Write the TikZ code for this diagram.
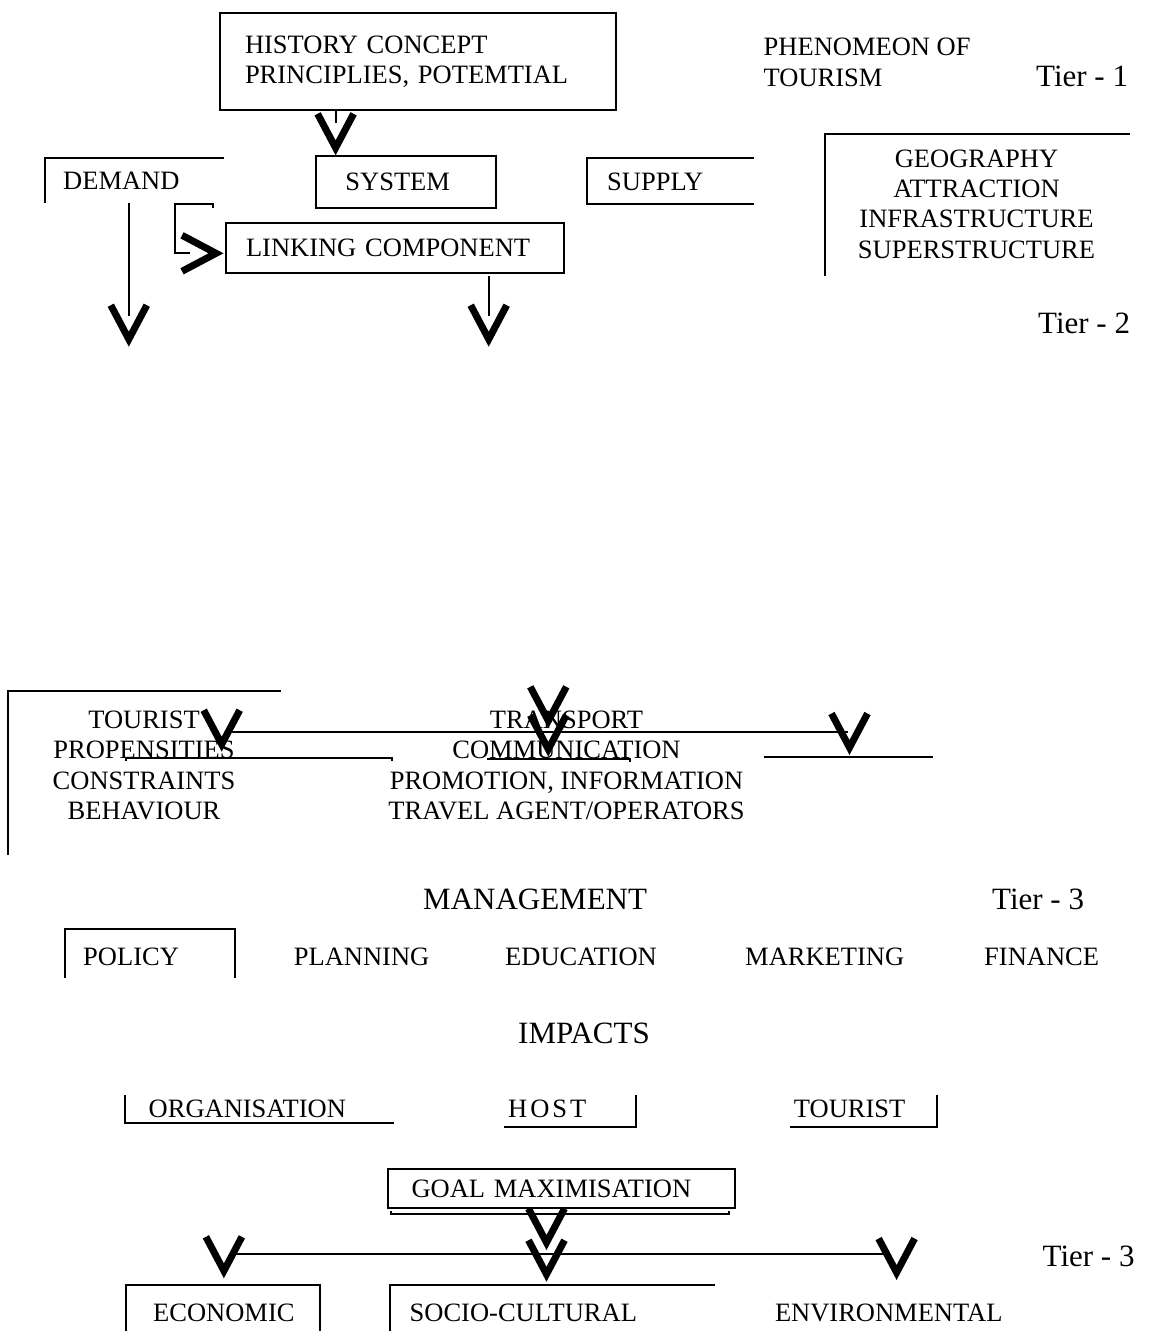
\documentclass[tikz,border=0pt]{standalone}
\usepackage{fontspec}
\setmainfont{Liberation Serif}
\usepackage{tikz}
\usetikzlibrary{arrows.meta, calc}

\begin{document}
\begin{tikzpicture}[
    x=1pt, y=-1pt,
    txt/.style={font=\fontsize{26.5}{30.3}\selectfont, inner sep=0pt, align=left, anchor=base west},
    ctxt/.style={font=\fontsize{26.5}{30.3}\selectfont, inner sep=0pt, align=center, anchor=base},
    bigtxt/.style={font=\fontsize{31}{36}\selectfont, inner sep=0pt, anchor=base west},
    boxnode/.style={draw, line width=2pt, anchor=north west, align=left, inner ysep=0pt, font=\fontsize{26.5}{30.3}\selectfont},
    frame/.style={line width=2pt},
    flow/.style={line width=2pt},
    vtip/.style={flow, -{Straight Barb[length=34pt, width=36pt, line width=7pt, sharp]}}
]
    \useasboundingbox (0,0) rectangle (1151,1331);

    % Tier 1
    \node[boxnode, minimum width=396pt, minimum height=97pt, text width=346pt, inner xsep=25pt] (Hist) at (219,12) {HISTORY CONCEPT\\PRINCIPLIES, POTEMTIAL};
    \node[txt]    (Phen)  at (763.5,86) {PHENOMEON OF\\TOURISM};
    \node[bigtxt] (Tier1) at (1036,86) {Tier - 1};

    % Tier 2
    \node[txt]    (Demand) at (63,189) {DEMAND};
    \node[boxnode, minimum width=180pt, minimum height=51.4pt, text width=120.4pt, inner xsep=29.8pt] (Sys) at (314.6,155.3) {SYSTEM};
    \node[txt]    (Supply) at (607,190) {SUPPLY};
    \node[ctxt]   (Geo)    at (976.5,258) {GEOGRAPHY\\ATTRACTION\\INFRASTRUCTURE\\SUPERSTRUCTURE};
    \node[boxnode, minimum width=338.7pt, minimum height=50pt, text width=297.9pt, inner xsep=20.4pt] (Link) at (224.6,221.7) {LINKING COMPONENT};
    \node[bigtxt] (Tier2)  at (1038,333.3) {Tier - 2};

    \node[ctxt] (Tourist)   at (144,819.5) {TOURIST\\PROPENSITIES\\CONSTRAINTS\\BEHAVIOUR};
    \node[ctxt] (Transport) at (566.5,819.5) {TRANSPORT\\COMMUNICATION\\PROMOTION, INFORMATION\\TRAVEL AGENT/OPERATORS};

    % Tier 3
    \node[bigtxt] (Mgmt)  at (423,909.3) {MANAGEMENT};
    \node[bigtxt] (Tier3) at (992,909.3) {Tier - 3};
    \node[txt] (Policy)    at (83,965)    {POLICY};
    \node[txt] (Planning)  at (293.7,965) {PLANNING};
    \node[txt] (Education) at (505,965)   {EDUCATION};
    \node[txt] (Marketing) at (745,965)   {MARKETING};
    \node[txt] (Finance)   at (984,965)   {FINANCE};

    \node[bigtxt] (Impacts) at (518,1043.3) {IMPACTS};
    \node[txt] (Org)     at (148.5,1117.3) {ORGANISATION};
    \node[txt] (Host)    at (508,1117.3)   {H\kern3pt O\kern3pt S\kern3pt T};
    \node[txt] (TourImp) at (793.7,1117.3) {TOURIST};
    \node[boxnode, minimum width=347.5pt, minimum height=38.4pt, text width=299.5pt, inner xsep=24pt] (Goal) at (386.5,1168.3) {GOAL MAXIMISATION};
    \node[bigtxt] (Tier3b) at (1042.5,1266) {Tier - 3};
    \node[txt] (Econ)  at (153,1321.7)   {ECONOMIC};
    \node[txt] (Socio) at (409.5,1321.7) {SOCIO-CULTURAL};
    \node[txt] (Env)   at (774.8,1321.7) {ENVIRONMENTAL};

    % open frames
    \draw[frame] (224,158) -| (44.8,203);
    \draw[frame] (754,158) -| (587,204) -- (754,204);
    \draw[frame] (1130,134) -| (825,276);
    \draw[frame] (280.7,691) -| (8.4,855);
    \draw[frame] (64.6,978) |- (235,929) -- (235,978);
    \draw[frame] (124.8,1095) |- (394.2,1123.3);
    \draw[frame] (504.4,1126.7) -| (636,1095);
    \draw[frame] (790,1126.7) -| (937,1095);
    \draw[frame] (391,1211) |- (728.9,1214.3) -- (728.9,1211);
    \draw[frame] (126.3,1335) |- (320,1285) -- (320,1335);
    \draw[frame] (390.4,1335) |- (715.3,1285);

    % connectors, upper part
    \coordinate (HistOut) at (335.6,110);
    \coordinate (SysIn)   at (335.6,155.3);
    \coordinate (DmdOut)  at (128.8,203);
    \coordinate (DmdEnd)  at (128.8,346.7);
    \coordinate (LnkOut)  at (488.7,276);
    \coordinate (LnkEnd)  at (488.7,346.7);
    \coordinate (LnkIn)   at (223.5,253.3);

    \draw[flow] (HistOut) -- ++(0,13);
    \draw[vtip] ($(SysIn)+(0,-6)$) -- (SysIn);
    \draw[flow] (DmdOut) -- ++(0,113);
    \draw[vtip] ($(DmdEnd)+(0,-6)$) -- (DmdEnd);
    \draw[flow] (LnkOut) -- ++(0,40);
    \draw[vtip] ($(LnkEnd)+(0,-6)$) -- (LnkEnd);
    \draw[flow] (213.3,208) -- (213.3,204) -- (175,204) |- (190,253.3);
    \draw[vtip] ($(LnkIn)+(-6,0)$) -- (LnkIn);

    % tier 2 lines and tips
    \coordinate (BusW) at (225,732);
    \coordinate (BusE) at (848.4,732);
    \draw[flow] (BusW) -- (BusE);
    \draw[flow] (126.3,761) -- (126.3,758.3) -- (391.7,758.3) -- (391.7,761);
    \draw[flow] (486.7,759) -- (629.7,759) -- (629.7,762);
    \draw[flow] (763.5,757.3) -- (933,757.3);
    \foreach \x/\y in {221.7/751.7, 548.3/728.3, 548.3/756.7, 849.5/755}
        \draw[vtip] (\x,\y-6) -- (\x,\y);

    % tier 3 lines and tips
    \coordinate (ImpW) at (229.6,1254.3);
    \coordinate (ImpE) at (884,1254.3);
    \draw[flow] (ImpW) -- (ImpE);
    \foreach \x/\y in {546.5/1250, 546.5/1281.7, 223.9/1278.3, 896.6/1280}
        \draw[vtip] (\x,\y-6) -- (\x,\y);

\end{tikzpicture}
\end{document}
